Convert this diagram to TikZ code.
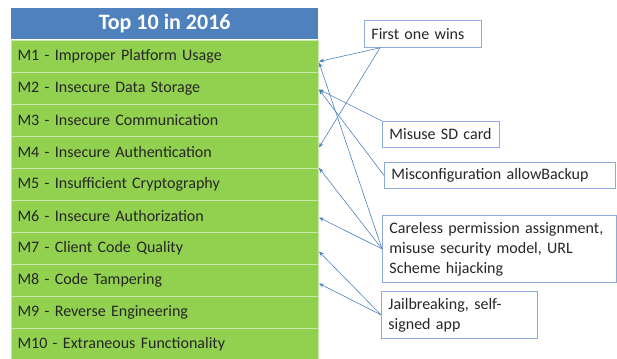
\documentclass[tikz,border=0pt]{standalone}
\usepackage{fontspec}
\setmainfont{Carlito}
\usetikzlibrary{arrows.meta,calc}
\definecolor{hdr}{HTML}{4F81BD}
\definecolor{grn}{HTML}{92D050}
\definecolor{sep}{HTML}{C9E7AB}
\definecolor{boxc}{HTML}{8EAADB}
\definecolor{arr}{HTML}{4F81BD}
\begin{document}
\begin{tikzpicture}[x=1pt,y=-1pt,
  hdrbox/.style={anchor=north west, minimum width=307pt, minimum height=31pt, inner sep=0pt, fill=hdr, text=white, font=\fontsize{22}{24}\selectfont\bfseries},
  rowbox/.style={anchor=north west, minimum width=307pt, minimum height=32pt, text width=295pt, inner xsep=6pt, inner ysep=0pt, align=left, fill=grn, draw=sep, line width=1pt, font=\fontsize{16}{18}\selectfont, text=black!85},
  tbox/.style={anchor=north west, draw=boxc, line width=0.8pt, inner xsep=7pt, inner ysep=2pt, align=left, font=\fontsize{16}{20}\selectfont, text=black!85},
  conn/.style={draw=arr, line width=0.6pt, -{Stealth[length=5pt,width=4pt]}}]
\useasboundingbox (0,0) rectangle (617,358);
\node[hdrbox] (hdr) at (11,8) {Top 10 in 2016};
\foreach \i/\t in {1/Improper Platform Usage,2/Insecure Data Storage,3/Insecure Communication,4/Insecure Authentication,5/Insufficient Cryptography,6/Insecure Authorization,7/Client Code Quality,8/Code Tampering,9/Reverse Engineering,10/Extraneous Functionality}{
  \node[rowbox] (m\i) at (11,{40+32*(\i-1)}) {M\i{} - \t};
}
\node[tbox, text width=103pt, minimum height=27pt] (first) at (364,20) {First one wins};
\node[tbox, text width=103pt, minimum height=26pt] (sd) at (382,121) {Misuse SD card};
\node[tbox, text width=217pt, minimum height=26pt] (backup) at (384,162) {Misconfiguration allowBackup};
\node[tbox, text width=220pt, minimum height=67pt] (careless) at (382,215) {Careless permission assignment,\\misuse security model, URL\\Scheme hijacking};
\node[tbox, text width=142pt, minimum height=47pt] (jail) at (381,291) {Jailbreaking, self-\\signed app};
\draw[conn] ([xshift=16pt]first.south west) -- ([yshift=-5pt]m1.east);
\draw[conn] ([xshift=16pt]first.south west) -- ([yshift=5pt]m4.east);
\draw[conn] (sd.north west) -- ([yshift=-1pt]m2.east);
\draw[conn] (backup.west) -- ([yshift=-1pt]m2.east);
\draw[conn] (careless.west) -- ([yshift=-6pt]m1.east);
\draw[conn] (careless.west) -- (m5.north east);
\draw[conn] (careless.west) -- ([yshift=-1pt]m6.east);
\draw[conn] (jail.west) -- ([yshift=-3pt]m7.east);
\draw[conn] (jail.west) -- ([yshift=-3pt]m8.east);
\end{tikzpicture}
\end{document}
